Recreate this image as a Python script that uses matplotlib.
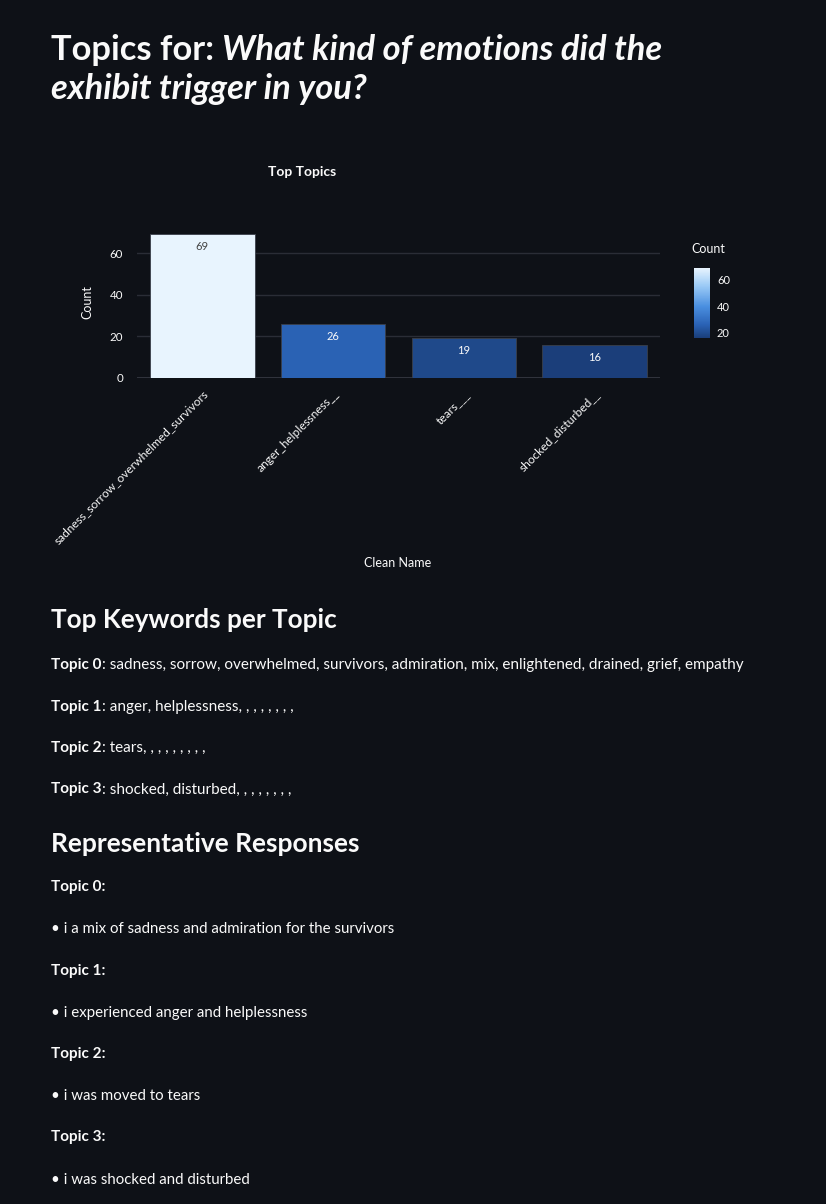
import numpy as np
import matplotlib
import matplotlib.pyplot as plt
from matplotlib.colors import LinearSegmentedColormap, Normalize
from matplotlib.cm import ScalarMappable

# data
topic_names = ["sadness_sorrow_overwhelmed_survivors", "anger_helplessness__",
               "tears___", "shocked_disturbed__"]
topic_counts = [69, 26, 19, 16]
keywords = [
    ["sadness", "sorrow", "overwhelmed", "survivors", "admiration", "mix",
     "enlightened", "drained", "grief", "empathy"],
    ["anger", "helplessness", "", "", "", "", "", "", "", ""],
    ["tears", "", "", "", "", "", "", "", "", ""],
    ["shocked", "disturbed", "", "", "", "", "", "", "", ""],
]
responses = [
    "i a mix of sadness and admiration for the survivors",
    "i experienced anger and helplessness",
    "i was moved to tears",
    "i was shocked and disturbed",
]
question = "What kind of emotions did the"
question2 = "exhibit trigger in you?"

BG = "#0e1117"
FG = "#fafafa"
W, H = 826, 1204
plt.rcParams['font.family'] = ['Lato', 'DejaVu Sans']

fig = plt.figure(figsize=(W / 100, H / 100), dpi=100, facecolor=BG)
renderer = fig.canvas.get_renderer()


def fx(x):
    return x / W


def fy(y):
    return 1 - y / H


def runs(x, y, parts, size):
    # draw a line made of (text, weight, style) pieces one after another
    for txt, weight, style in parts:
        t = fig.text(fx(x), fy(y), txt, color=FG, fontsize=size, fontweight=weight,
                     fontstyle=style, va='baseline', ha='left')
        x += t.get_window_extent(renderer).width
    return x


# page title
runs(51, 60, [("Topics for: ", "bold", "normal"), (question, "bold", "italic")], 24.8)
runs(51, 99, [(question2, "bold", "italic")], 24.8)

# bar chart
cmap = LinearSegmentedColormap.from_list("st_blues", [
    (0.0, "#1b3e7a"), (0.06, "#1f4a8c"), (0.19, "#2a62b5"),
    (0.45, "#4a8fe0"), (0.75, "#9ccbf6"), (1.0, "#e8f4fe")])
norm = Normalize(vmin=min(topic_counts), vmax=max(topic_counts))

ax = fig.add_axes([fx(137), fy(378), (660 - 137) / W, (378 - 227) / H])
ax.set_facecolor(BG)
x = np.arange(len(topic_names))
colors = [cmap(norm(v)) for v in topic_counts]
bars = ax.bar(x, topic_counts, width=0.8, color=colors, edgecolor="#3a3f4a", linewidth=0.6, zorder=3)
for b, v in zip(bars, topic_counts):
    tc = "#444444" if norm(v) > 0.6 else FG
    ax.annotate(str(v), (b.get_x() + b.get_width() / 2, v), xytext=(0, -5),
                textcoords="offset points", ha='center', va='top', color=tc, fontsize=8, zorder=4)
ax.set_xlim(-0.5, len(topic_names) - 0.5)
ax.set_ylim(0, max(topic_counts) * 1.052)
ax.set_yticks([0, 20, 40, 60])
ax.yaxis.grid(True, color="#2a2d36", linewidth=1, zorder=0)
ax.axhline(0, color="#3a3d46", linewidth=1.2, zorder=1)
for s in ax.spines.values():
    s.set_visible(False)
ax.tick_params(axis='both', length=0, colors=FG, labelsize=8.3)
ax.tick_params(axis='y', pad=10)
ax.set_xticks(x)
ax.set_xticklabels(topic_names, rotation=45, ha='right', va='top', rotation_mode='anchor', fontsize=8.6)
ax.tick_params(axis='x', pad=7)
ax.set_ylabel("Count", color=FG, fontsize=9, labelpad=12)
fig.text(fx(398), fy(563), "Clean Name", color=FG, fontsize=9, ha='center', va='center')
fig.text(fx(302), fy(172), "Top Topics", color=FG, fontsize=10, fontweight='bold', ha='center', va='center')

# colorbar
cax = fig.add_axes([fx(694), fy(338), 16 / W, 70 / H])
cb = fig.colorbar(ScalarMappable(norm=norm, cmap=cmap), cax=cax, ticks=[20, 40, 60])
cb.outline.set_visible(False)
cax.tick_params(length=0, colors=FG, labelsize=8, pad=5)
fig.text(fx(708), fy(249), "Count", color=FG, fontsize=9, ha='center', va='center')

# keywords section
runs(51, 628, [("Top Keywords per Topic", "bold", "normal")], 18.8)
for i, kw in enumerate(keywords):
    runs(51, 669 + 41.5 * i, [(f"Topic {i}", "bold", "normal"), (": " + ", ".join(kw), "normal", "normal")], 11)

# representative responses
runs(51, 852, [("Representative Responses", "bold", "normal")], 19)
for i, r in enumerate(responses):
    runs(51, 891 + 83.5 * i, [(f"Topic {i}:", "bold", "normal")], 11)
    runs(51, 933 + 83.5 * i, [("• " + r, "normal", "normal")], 10.8)

fig.savefig("out.png", dpi=100, facecolor=BG)
